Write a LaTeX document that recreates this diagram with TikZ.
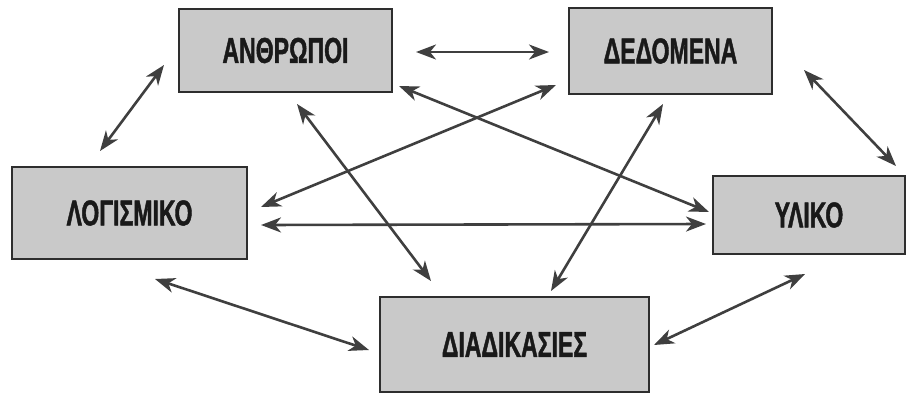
\documentclass[tikz,border=0pt]{standalone}
\usepackage{fontspec}
\usetikzlibrary{arrows.meta}
\newfontfamily\boxfont{Liberation Sans}[FakeStretch=0.64,BoldFeatures={FakeBold=1.2}]
\definecolor{boxfill}{HTML}{C9C9C9}
\definecolor{boxline}{HTML}{2E2E2E}
\definecolor{arrowgray}{HTML}{3F3F3F}
\tikzset{
  unit/.style={draw=boxline, line width=2pt, fill=boxfill, text=black!90,
    font=\boxfont\bfseries\fontsize{36}{36}\selectfont, inner sep=0pt},
  link/.style={draw=arrowgray, line width=2.6pt,
    {Stealth[length=20pt,width=15pt,inset=6pt]}-{Stealth[length=20pt,width=15pt,inset=6pt]}},
}
\begin{document}
\begin{tikzpicture}[x=1pt,y=-1pt]
\useasboundingbox (0,0) rectangle (920,394);

% the five components
\node[unit, minimum width=213pt, minimum height=83pt] (ant) at (285.5,50.5) {ΑΝΘΡΩΠΟΙ};
\node[unit, minimum width=203pt, minimum height=86pt] (ded) at (670.5,51) {ΔΕΔΟΜΕΝΑ};
\node[unit, minimum width=235pt, minimum height=92pt] (log) at (129.5,213) {ΛΟΓΙΣΜΙΚΟ};
\node[unit, minimum width=192pt, minimum height=78pt] (yl) at (809,215) {ΥΛΙΚΟ};
\node[unit, minimum width=269pt, minimum height=95pt] (dia) at (514.5,344.5) {ΔΙΑΔΙΚΑΣΙΕΣ};

% two-way links between them
\draw[link] ([shift={(23,1.5)}]ant.east) -- ([shift={(-19,1)}]ded.west);
\draw[link] ([shift={(-14,14.5)}]ant.west) -- ([shift={(-29.5,-15)}]log.north);
\draw[link] ([shift={(6,-7)}]ant.south east) -- ([shift={(-3,-3)}]yl.west);
\draw[link] ([shift={(11.5,11)}]ant.south) -- ([shift={(52,-15)}]dia.north west);
\draw[link] ([shift={(-12,-10)}]ded.south west) -- ([shift={(13,-6)}]log.east);
\draw[link] ([shift={(-7.5,9)}]ded.south) -- ([shift={(36.5,-5)}]dia.north);
\draw[link] ([shift={(31,-25)}]ded.south east) -- ([shift={(-10,-9)}]yl.north east);
\draw[link] ([shift={(13,12)}]log.east) -- ([shift={(-6,9)}]yl.west);
\draw[link] ([shift={(25.5,19)}]log.south) -- ([shift={(-10,5.5)}]dia.west);
\draw[link] ([shift={(-4,19)}]yl.south) -- ([shift={(4,0.5)}]dia.east);
\end{tikzpicture}
\end{document}
